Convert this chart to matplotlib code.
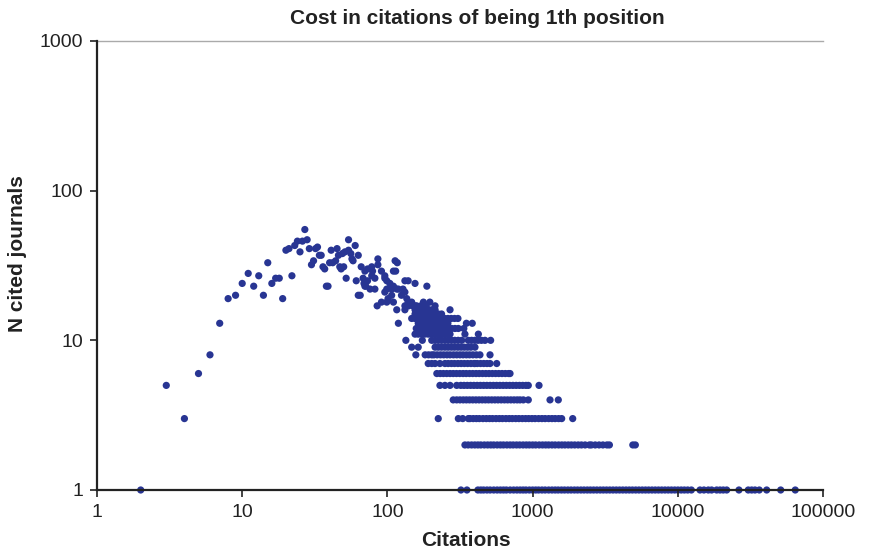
import matplotlib.pyplot as plt
from matplotlib.ticker import FixedLocator, NullLocator

plt.rcParams['font.family'] = ['Liberation Sans', 'DejaVu Sans']

# rows of journals sharing the same count (y value), x = citations
row1_x = [2, 321, 353, 420, 440, 460, 485, 510, 540, 570, 600, 630, 660, 700, 740, 780,
          820, 860, 900, 950, 1000, 1050, 1100, 1160, 1220, 1290, 1360, 1430, 1500, 1580,
          1660, 1750, 1840, 1940, 2040, 2150, 2260, 2380, 2500, 2630, 2770, 2920, 3070,
          3230, 3400, 3580, 3770, 3970, 4180, 4400, 4630, 4870, 5130, 5400, 5690, 5990,
          6300, 6640, 6990, 7360, 7750, 8160, 8590, 9040, 9520, 10020, 10550, 11100, 11700,
          12400, 14220, 15140, 16220, 17100, 18520, 19530, 20560, 21710, 26370, 30570,
          32270, 34020, 36400, 40940, 51130, 64400]
row2_x = [342, 360, 380, 400, 420, 440, 465, 490, 515, 540, 570, 600, 630, 665, 700, 735,
          775, 815, 860, 905, 950, 1000, 1050, 1110, 1170, 1230, 1290, 1360, 1430, 1510,
          1590, 1670, 1760, 1850, 1950, 2060, 2170, 2300, 2460, 2540, 2700, 2870, 3050,
          3250, 3380, 4900, 5100]
row3_x = [224, 308, 330, 361, 370, 390, 410, 430, 455, 480, 505, 530, 560, 590, 620, 655,
          690, 725, 765, 805, 850, 895, 940, 990, 1040, 1100, 1160, 1220, 1290, 1360, 1430,
          1510, 1586, 1889]
row4_x = [284, 300, 316, 333, 350, 368, 387, 407, 428, 450, 473, 497, 523, 550, 578, 608,
          640, 673, 708, 745, 783, 819, 863, 934, 1318, 1503]
row5_x = [230, 249, 270, 300, 320, 337, 355, 374, 394, 415, 437, 460, 484, 510, 537, 565,
          595, 627, 660, 695, 732, 771, 812, 855, 900, 934, 1107]
row6_x = [219, 231, 243, 256, 270, 284, 299, 315, 332, 349, 368, 387, 408, 429, 452, 476,
          501, 528, 556, 585, 616, 649, 683, 699]
row7_x = [191, 202, 213, 230, 249, 262, 276, 290, 306, 322, 339, 357, 376, 396, 401, 416,
          438, 461, 485, 509, 566]
row8_x = [157, 182, 192, 202, 209, 220, 232, 244, 257, 270, 285, 300, 316, 332, 350, 368,
          388, 410, 434, 509]
row9_x = [147, 163, 213, 224, 236, 249, 262, 276, 290, 306, 322, 339, 357, 376, 401]
row10_x = [134, 174, 202, 213, 224, 236, 249, 262, 276, 291, 307, 325, 361, 380, 400, 421,
           444, 470, 514]
row11_x = [155, 163, 172, 181, 191, 201, 212, 223, 235, 248, 260, 270, 342, 423]
row12_x = [158, 166, 175, 184, 194, 204, 215, 226, 238, 250, 263, 277, 292, 308, 336]
row13_x = [119, 163, 172, 181, 190, 200, 211, 222, 234, 246, 261, 350, 384]
row14_x = [147, 155, 163, 172, 181, 191, 201, 212, 223, 235, 248, 261, 275, 290, 306]
row15_x = [155, 163, 172, 181, 191, 201, 212, 224, 236]
row16_x = [116, 132, 155, 164, 173, 183, 193, 203, 213, 270]
row17_x = [85, 132, 136, 140, 150, 155, 159, 170, 185, 213]
row18_x = [91, 99, 110, 139, 147, 177, 196]

# remaining scattered journals (citations, count)
scatter_x = [3, 4, 5, 6, 7, 8, 9, 10, 11, 12, 13, 14, 15, 16, 17, 18, 19, 20, 21, 22, 23,
             24, 25, 26, 27, 28, 29, 30, 31, 32, 33, 34, 35, 36, 37, 38, 39, 40, 41, 42, 44,
             45, 46, 47, 48, 49, 50, 51, 52, 54, 54, 56, 57, 58, 60, 61, 63, 63, 65, 66, 68,
             69, 70, 70, 71, 73, 73, 76, 78, 78, 79, 82, 82, 86, 86, 91, 96, 96, 96, 99, 99,
             101, 104, 107, 107, 110, 110, 113, 114, 116, 117, 119, 125, 128, 132, 132, 136,
             139, 155, 187]
scatter_y = [5, 3, 6, 8, 13, 19, 20, 24, 28, 23, 27, 20, 33, 24, 26, 26, 19, 40, 41, 27, 43,
             46, 39, 46, 55, 47, 41, 32, 34, 41, 42, 37, 37, 31, 30, 23, 23, 33, 40, 33, 34,
             41, 37, 31, 30, 38, 31, 39, 26, 40, 47, 38, 35, 34, 43, 25, 37, 20, 20, 31, 26,
             24, 29, 23, 23, 30, 25, 22, 31, 27, 29, 26, 22, 35, 32, 29, 27, 26, 21, 25, 22,
             19, 24, 20, 22, 23, 29, 34, 29, 22, 33, 22, 20, 22, 21, 25, 19, 25, 24, 23]

rows = [row1_x, row2_x, row3_x, row4_x, row5_x, row6_x, row7_x, row8_x, row9_x, row10_x,
        row11_x, row12_x, row13_x, row14_x, row15_x, row16_x, row17_x, row18_x]

xs = list(scatter_x)
ys = list(scatter_y)
for n, r in enumerate(rows, start=1):
    xs += r
    ys += [n] * len(r)

fig = plt.figure(figsize=(8.7, 5.5), dpi=100)
ax = fig.add_axes([97 / 870, 1 - 490 / 550, 726 / 870, 449 / 550])

ax.scatter(xs, ys, s=27, color='#283593', edgecolors='none', clip_on=False, zorder=1)

ax.set_xscale('log')
ax.set_yscale('log')
ax.set_xlim(1, 100000)
ax.set_ylim(1, 1000)

ax.xaxis.set_major_locator(FixedLocator([1, 10, 100, 1000, 10000, 100000]))
ax.yaxis.set_major_locator(FixedLocator([1, 10, 100, 1000]))
ax.xaxis.set_minor_locator(NullLocator())
ax.yaxis.set_minor_locator(NullLocator())
ax.set_xticklabels(['1', '10', '100', '1000', '10000', '100000'])
ax.set_yticklabels(['1', '10', '100', '1000'])
ax.tick_params(direction='out', length=5, width=1.2, labelsize=14, color='#222222',
               labelcolor='#222222', pad=5)

ax.spines['right'].set_visible(False)
ax.spines['top'].set_color('#aaaaaa')
ax.spines['top'].set_linewidth(1.0)
for side in ['left', 'bottom']:
    ax.spines[side].set_linewidth(1.6)
    ax.spines[side].set_color('#222222')
    ax.spines[side].set_zorder(3)

fig.text(466 / 870, 1 - 541 / 550, 'Citations', ha='center', va='center',
         fontsize=15, fontweight='bold', color='#222222')
fig.text(18 / 870, 1 - 254 / 550, 'N cited journals', ha='center', va='center',
         rotation=90, fontsize=15, fontweight='bold', color='#222222')
fig.text(477 / 870, 1 - 19 / 550, 'Cost in citations of being 1th position', ha='center',
         va='center', fontsize=15, fontweight='bold', color='#222222')

fig.savefig('out.png', dpi=100)
